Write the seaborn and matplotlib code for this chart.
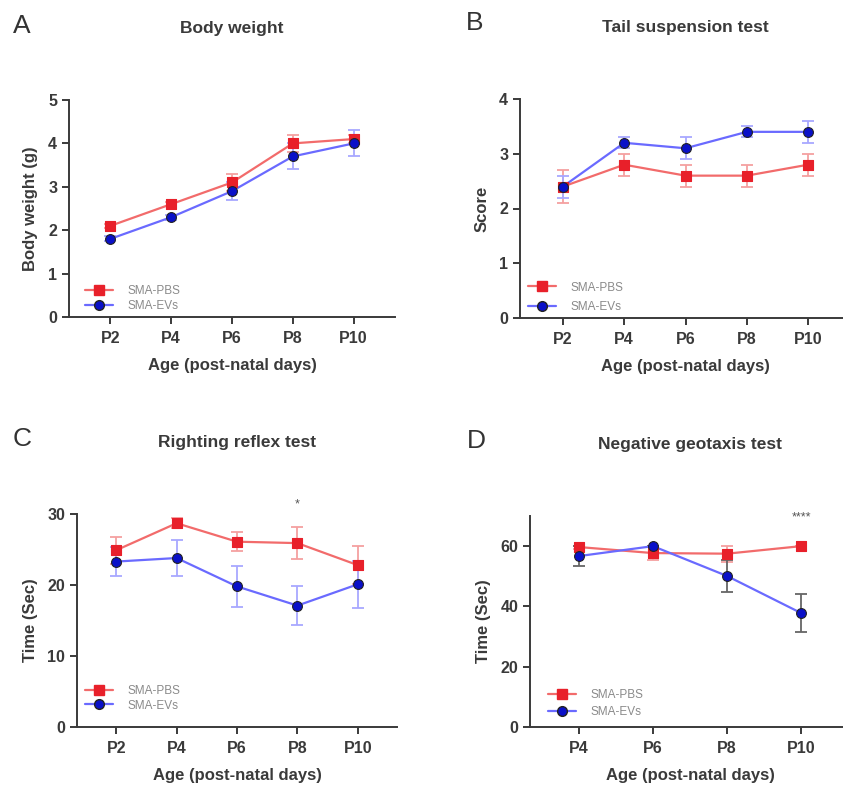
import matplotlib
matplotlib.use("Agg")
import matplotlib.pyplot as plt
import numpy as np
import pandas as pd
import seaborn as sns
from matplotlib.lines import Line2D

# ---- data ----
ages_abc = ["P2", "P4", "P6", "P8", "P10"]
ages_d = ["P4", "P6", "P8", "P10"]

bw_pbs = [2.1, 2.6, 3.1, 4.0, 4.1]
bw_pbs_err = [0.05, 0.05, 0.2, 0.2, 0.1]
bw_evs = [1.8, 2.3, 2.9, 3.7, 4.0]
bw_evs_err = [0.06, 0.06, 0.2, 0.3, 0.3]

ts_pbs = [2.4, 2.8, 2.6, 2.6, 2.8]
ts_pbs_err = [0.3, 0.2, 0.2, 0.2, 0.2]
ts_evs = [2.4, 3.2, 3.1, 3.4, 3.4]
ts_evs_err = [0.2, 0.1, 0.2, 0.1, 0.2]

rr_pbs = [24.9, 28.7, 26.1, 25.9, 22.8]
rr_pbs_err = [1.9, 0.7, 1.3, 2.3, 2.7]
rr_evs = [23.3, 23.8, 19.8, 17.1, 20.1]
rr_evs_err = [2.0, 2.5, 2.9, 2.7, 3.3]

ng_pbs = [59.7, 57.7, 57.5, 60.0]
ng_pbs_err = [0.5, 2.4, 2.6, 0.0]
ng_evs = [56.7, 60.0, 50.1, 37.8]
ng_evs_err = [3.4, 0.0, 5.2, 6.3]

groups = ["SMA-PBS", "SMA-EVs"]
line_col = {"SMA-PBS": "#f26b6b", "SMA-EVs": "#6a6aff"}
mark_col = {"SMA-PBS": "#e8202a", "SMA-EVs": "#0a10c8"}
err_col = {"SMA-PBS": "#f5a0a0", "SMA-EVs": "#a8a8ff"}
marker = {"SMA-PBS": "s", "SMA-EVs": "o"}

sns.set_theme(style="ticks")
plt.rcParams["font.family"] = ["Liberation Sans", "DejaVu Sans"]

W, H = 843, 785
fig = plt.figure(figsize=(W / 100, H / 100), dpi=100)


def px_axes(left, right, top, bottom):
    return fig.add_axes([left / W, 1 - bottom / H, (right - left) / W, (bottom - top) / H])


def make_df(ages, pbs, pbs_err, evs, evs_err):
    rows = []
    for i, a in enumerate(ages):
        rows.append({"pos": i, "age": a, "group": "SMA-PBS", "mean": pbs[i], "err": pbs_err[i]})
        rows.append({"pos": i, "age": a, "group": "SMA-EVs", "mean": evs[i], "err": evs_err[i]})
    return pd.DataFrame(rows)


def panel(ax, df, ages, xlim, ylim, yticks, ylabel, title, legend_anchor, spacing=0.3,
          evs_errcolor=None):
    for g in groups:
        sub = df[df.group == g]
        ec = err_col[g] if not (g == "SMA-EVs" and evs_errcolor) else evs_errcolor
        ax.errorbar(sub["pos"], sub["mean"], yerr=sub["err"], fmt="none", ecolor=ec,
                    elinewidth=1.3, capsize=4, capthick=1.3, zorder=2)
    sns.lineplot(data=df, x="pos", y="mean", hue="group", palette=line_col, ax=ax,
                 legend=False, linewidth=1.6, zorder=3)
    for g in groups:
        sub = df[df.group == g]
        sns.scatterplot(data=sub, x="pos", y="mean", ax=ax, marker=marker[g], color=mark_col[g],
                        s=50, edgecolor="#222222" if g == "SMA-EVs" else mark_col[g],
                        linewidth=0.8, legend=False, zorder=4)
    ax.set_xlim(*xlim)
    ax.set_ylim(*ylim)
    ax.set_xticks(range(len(ages)))
    ax.set_xticklabels(ages)
    ax.set_yticks(yticks)
    ax.set_xlabel("Age (post-natal days)", fontsize=12, fontweight="bold", color="#3a3a3a", labelpad=9)
    ax.set_ylabel(ylabel, fontsize=12, fontweight="bold", color="#3a3a3a", labelpad=7)
    ax.set_title(title, fontsize=12.5, fontweight="bold", color="#3a3a3a", pad=48)
    for lab in ax.get_xticklabels() + ax.get_yticklabels():
        lab.set_fontweight("bold")
    ax.tick_params(axis="both", labelsize=11.5, colors="#3a3a3a", length=5, width=1.4, direction="out")
    ax.tick_params(axis="x", pad=5)
    for s in ["top", "right"]:
        ax.spines[s].set_visible(False)
    for s in ["left", "bottom"]:
        ax.spines[s].set_linewidth(1.4)
        ax.spines[s].set_color("#3a3a3a")
    handles = [Line2D([0], [0], color=line_col[g], lw=1.6, marker=marker[g], markersize=7,
                      markerfacecolor=mark_col[g],
                      markeredgecolor="#222222" if g == "SMA-EVs" else mark_col[g]) for g in groups]
    leg = ax.legend(handles, groups, loc="lower left", bbox_to_anchor=legend_anchor, frameon=False,
                    fontsize=8.5, handlelength=2.4, labelspacing=spacing, handletextpad=1.2,
                    borderaxespad=0)
    for t in leg.get_texts():
        t.set_color("#8a8a8a")


axA = px_axes(69, 395, 100, 317)
panel(axA, make_df(ages_abc, bw_pbs, bw_pbs_err, bw_evs, bw_evs_err), ages_abc,
      (-0.68, 4.68), (0, 5), [0, 1, 2, 3, 4, 5], "Body weight (g)", "Body weight", (0.035, 0.0))

axB = px_axes(520, 851, 99, 318)
panel(axB, make_df(ages_abc, ts_pbs, ts_pbs_err, ts_evs, ts_evs_err), ages_abc,
      (-0.70, 4.70), (0, 4), [0, 1, 2, 3, 4], "Score", "Tail suspension test", (0.01, 0.0),
      spacing=0.65)

axC = px_axes(77, 397, 514, 727)
panel(axC, make_df(ages_abc, rr_pbs, rr_pbs_err, rr_evs, rr_evs_err), ages_abc,
      (-0.65, 4.65), (0, 30), [0, 10, 20, 30], "Time (Sec)", "Righting reflex test", (0.01, 0.05),
      spacing=0.25)
axC.text(3, 31.4, "*", ha="center", va="center", fontsize=9, color="#555555", clip_on=False)

axD = px_axes(530, 850, 516, 727)
panel(axD, make_df(ages_d, ng_pbs, ng_pbs_err, ng_evs, ng_evs_err), ages_d,
      (-0.66, 3.66), (0, 70), [0, 20, 40, 60], "Time (Sec)", "Negative geotaxis test", (0.04, 0.02),
      spacing=0.45, evs_errcolor="#666666")
axD.text(3, 69.5, "****", ha="center", va="center", fontsize=9, color="#555555", clip_on=False)

for letter, x, y in [("A", 22, 26), ("B", 475, 23), ("C", 22, 439), ("D", 476, 441)]:
    fig.text(x / W, 1 - y / H, letter, ha="center", va="center", fontsize=19, color="#333333")

fig.savefig("out.png", dpi=100)
